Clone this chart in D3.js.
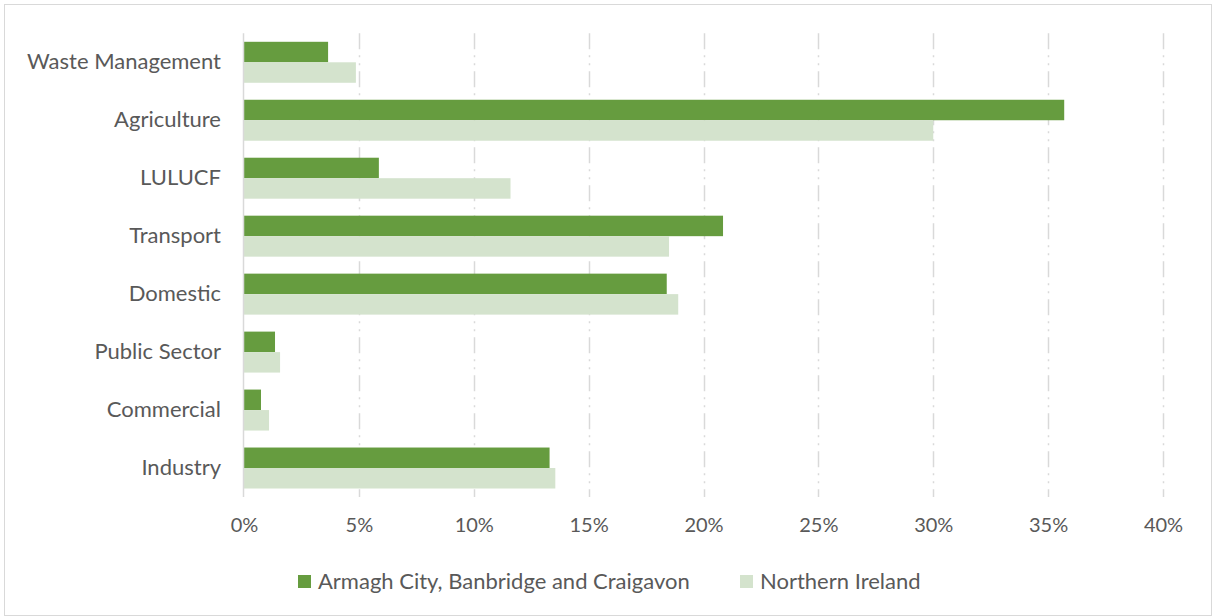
<!DOCTYPE html>
<html>
<head>
<meta charset="utf-8">
<script src="https://cdn.jsdelivr.net/npm/d3@7"></script>
<style>
  html, body { margin: 0; padding: 0; background: #fff; }
  svg text { font-family: "Lato", "Open Sans", sans-serif; fill: #595959; }
</style>
</head>
<body>
<svg id="chart" width="1212" height="616"></svg>
<script>
// Sector categories, top to bottom
const categories = ["Waste Management", "Agriculture", "LULUCF", "Transport", "Domestic", "Public Sector", "Commercial", "Industry"];
// Share of emissions (%) by sector
const armaghValues = [3.66, 35.7, 5.87, 20.85, 18.4, 1.35, 0.74, 13.3];
const niValues = [4.87, 30.0, 11.6, 18.5, 18.9, 1.57, 1.09, 13.55];
const seriesNames = ["Armagh City, Banbridge and Craigavon", "Northern Ireland"];
const tickValues = [0, 5, 10, 15, 20, 25, 30, 35, 40];
const colors = ["#669c3f", "#d4e3cd"];

const svg = d3.select("#chart");
const margin = { left: 244, right: 49, top: 33.3, bottom: 119 };
const W = 1212, H = 616;

// outer chart border
svg.append("rect").attr("x", 4.5).attr("y", 4.5).attr("width", W - 5).attr("height", H - 5)
  .attr("fill", "none").attr("stroke", "#d9d9d9").attr("stroke-width", 1);

const x = d3.scaleLinear().domain([0, 40]).range([margin.left, W - margin.right]);
const y = d3.scaleBand().domain(categories).range([margin.top, H - margin.bottom])
  .paddingInner(0.293).paddingOuter(0.1465);

// vertical gridlines
svg.append("g").selectAll("line").data(tickValues.filter(d => d > 0)).join("line")
  .attr("x1", d => Math.round(x(d)) + 0.5).attr("x2", d => Math.round(x(d)) + 0.5)
  .attr("y1", margin.top).attr("y2", H - margin.bottom)
  .attr("stroke", "#d9d9d9").attr("stroke-width", 1.5)
  .attr("stroke-dasharray", "16,6,2,6,2,6");

const bh = y.bandwidth() / 2;
const series = [armaghValues, niValues];
series.forEach((vals, si) => {
  svg.append("g").selectAll("rect").data(categories).join("rect")
    .attr("x", x(0))
    .attr("y", (d) => y(d) + si * bh)
    .attr("width", (d, i) => x(vals[i]) - x(0))
    .attr("height", bh)
    .attr("fill", colors[si]);
});

// vertical axis line
svg.append("line").attr("x1", x(0) - 0.5).attr("x2", x(0) - 0.5)
  .attr("y1", margin.top).attr("y2", H - margin.bottom)
  .attr("stroke", "#d9d9d9").attr("stroke-width", 1.5);

// category labels
const yAxis = d3.axisLeft(y).tickSize(0).tickPadding(23);
const gy = svg.append("g").attr("transform", `translate(${x(0)},0)`).call(yAxis);
gy.select(".domain").remove();
gy.selectAll("text").attr("font-size", 22).style("font-family", "Lato, sans-serif").attr("fill", "#595959");

// percent tick labels
const xAxis = d3.axisBottom(x).tickValues(tickValues).tickFormat(d => d + "%").tickSize(0).tickPadding(21);
const gx = svg.append("g").attr("transform", `translate(0,${H - margin.bottom})`).call(xAxis);
gx.select(".domain").remove();
gx.selectAll("text").attr("font-size", 20).style("font-family", "Lato, sans-serif").attr("fill", "#595959");

// legend
const legend = svg.append("g");
const legendX = [298, 740];
seriesNames.forEach((name, i) => {
  legend.append("rect").attr("x", legendX[i]).attr("y", 575).attr("width", 13).attr("height", 13).attr("fill", colors[i]);
  legend.append("text").attr("x", legendX[i] + 20).attr("y", 589).attr("font-size", 22).text(name);
});
</script>
</body>
</html>
